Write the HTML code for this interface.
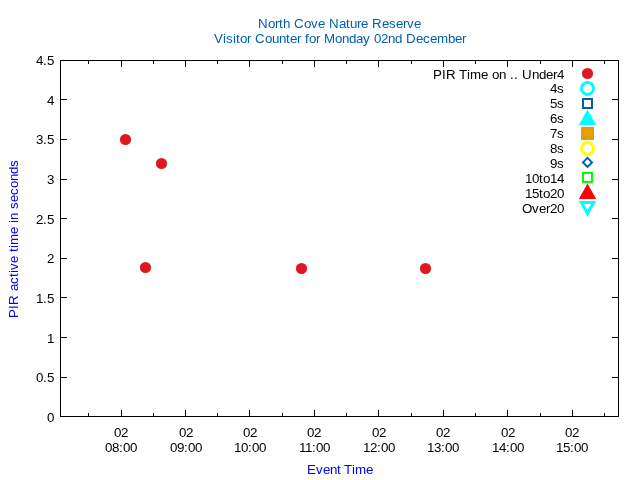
<!DOCTYPE html>
<html><head><meta charset="utf-8"><style>
html,body{margin:0;padding:0;background:#fff;overflow:hidden}
svg{display:block;will-change:transform}
text{font-family:"Liberation Sans",sans-serif;font-size:13.333px}
</style></head><body>
<svg width="640" height="480" viewBox="0 0 640 480">
<rect width="640" height="480" fill="#fff"/>
<g shape-rendering="crispEdges">
<rect x="60" y="60" width="559" height="1" fill="#000"/>
<rect x="60" y="416" width="559" height="1" fill="#000"/>
<rect x="60" y="60" width="1" height="357" fill="#000"/>
<rect x="618" y="60" width="1" height="357" fill="#000"/>
<rect x="121" y="410" width="1" height="6" fill="#000"/>
<rect x="121" y="61" width="1" height="6" fill="#000"/>
<rect x="185" y="410" width="1" height="6" fill="#000"/>
<rect x="185" y="61" width="1" height="6" fill="#000"/>
<rect x="249" y="410" width="1" height="6" fill="#000"/>
<rect x="249" y="61" width="1" height="6" fill="#000"/>
<rect x="314" y="410" width="1" height="6" fill="#000"/>
<rect x="314" y="61" width="1" height="6" fill="#000"/>
<rect x="378" y="410" width="1" height="6" fill="#000"/>
<rect x="378" y="61" width="1" height="6" fill="#000"/>
<rect x="443" y="410" width="1" height="6" fill="#000"/>
<rect x="443" y="61" width="1" height="6" fill="#000"/>
<rect x="507" y="410" width="1" height="6" fill="#000"/>
<rect x="507" y="61" width="1" height="6" fill="#000"/>
<rect x="572" y="410" width="1" height="6" fill="#000"/>
<rect x="572" y="61" width="1" height="6" fill="#000"/>
<rect x="88" y="413" width="1" height="3" fill="#000"/>
<rect x="88" y="61" width="1" height="3" fill="#000"/>
<rect x="153" y="413" width="1" height="3" fill="#000"/>
<rect x="153" y="61" width="1" height="3" fill="#000"/>
<rect x="217" y="413" width="1" height="3" fill="#000"/>
<rect x="217" y="61" width="1" height="3" fill="#000"/>
<rect x="282" y="413" width="1" height="3" fill="#000"/>
<rect x="282" y="61" width="1" height="3" fill="#000"/>
<rect x="346" y="413" width="1" height="3" fill="#000"/>
<rect x="346" y="61" width="1" height="3" fill="#000"/>
<rect x="411" y="413" width="1" height="3" fill="#000"/>
<rect x="411" y="61" width="1" height="3" fill="#000"/>
<rect x="475" y="413" width="1" height="3" fill="#000"/>
<rect x="475" y="61" width="1" height="3" fill="#000"/>
<rect x="540" y="413" width="1" height="3" fill="#000"/>
<rect x="540" y="61" width="1" height="3" fill="#000"/>
<rect x="604" y="413" width="1" height="3" fill="#000"/>
<rect x="604" y="61" width="1" height="3" fill="#000"/>
<rect x="61" y="377" width="6" height="1" fill="#000"/>
<rect x="612" y="377" width="6" height="1" fill="#000"/>
<rect x="61" y="337" width="6" height="1" fill="#000"/>
<rect x="612" y="337" width="6" height="1" fill="#000"/>
<rect x="61" y="297" width="6" height="1" fill="#000"/>
<rect x="612" y="297" width="6" height="1" fill="#000"/>
<rect x="61" y="258" width="6" height="1" fill="#000"/>
<rect x="612" y="258" width="6" height="1" fill="#000"/>
<rect x="61" y="218" width="6" height="1" fill="#000"/>
<rect x="612" y="218" width="6" height="1" fill="#000"/>
<rect x="61" y="179" width="6" height="1" fill="#000"/>
<rect x="612" y="179" width="6" height="1" fill="#000"/>
<rect x="61" y="139" width="6" height="1" fill="#000"/>
<rect x="612" y="139" width="6" height="1" fill="#000"/>
<rect x="61" y="99" width="6" height="1" fill="#000"/>
<rect x="612" y="99" width="6" height="1" fill="#000"/>
</g>
<circle cx="125.5" cy="139.5" r="5.6" fill="#dd181f"/>
<circle cx="161.5" cy="163.5" r="5.6" fill="#dd181f"/>
<circle cx="145.5" cy="267.5" r="5.6" fill="#dd181f"/>
<circle cx="301.5" cy="268.5" r="5.6" fill="#dd181f"/>
<circle cx="425.5" cy="268.5" r="5.6" fill="#dd181f"/>
<circle cx="587.5" cy="73.5" r="5.6" fill="#dd181f"/>
<circle cx="587.5" cy="88.4" r="6" fill="none" stroke="#00ffff" stroke-width="3"/>
<rect x="583" y="99" width="9" height="9" fill="none" stroke="#0060ad" stroke-width="2"/>
<polygon points="587.5,109.5 596.2,125 578.8,125" fill="#00ffff"/>
<rect x="581" y="127" width="13" height="13" fill="#e69f00"/>
<circle cx="587.5" cy="148.4" r="6" fill="none" stroke="#ffff00" stroke-width="3"/>
<polygon points="587.5,157.9 592,162.4 587.5,166.9 583,162.4" fill="none" stroke="#0060ad" stroke-width="2"/>
<rect x="583" y="173" width="9" height="9" fill="none" stroke="#00ff00" stroke-width="2"/>
<polygon points="587.5,183.5 596.2,199 578.8,199" fill="#ff0000"/>
<path d="M578.8,201 L596.2,201 L587.5,216.6 Z M584,204 L587.5,210 L591,204 Z" fill="#00ffff" fill-rule="evenodd"/>
<text x="47" y="422" fill="#000">0</text>
<text x="36 43 47" y="382" fill="#000">0.5</text>
<text x="47" y="343" fill="#000">1</text>
<text x="36 43 47" y="303" fill="#000">1.5</text>
<text x="47" y="263" fill="#000">2</text>
<text x="36 43 47" y="224" fill="#000">2.5</text>
<text x="47" y="184" fill="#000">3</text>
<text x="36 43 47" y="144" fill="#000">3.5</text>
<text x="47" y="105" fill="#000">4</text>
<text x="36 43 47" y="65" fill="#000">4.5</text>
<text x="114 121" y="437" fill="#000">02</text>
<text x="105 112 119 123 130" y="452" fill="#000">08:00</text>
<text x="179 186" y="437" fill="#000">02</text>
<text x="170 177 184 188 195" y="452" fill="#000">09:00</text>
<text x="243 250" y="437" fill="#000">02</text>
<text x="234 241 248 252 259" y="452" fill="#000">10:00</text>
<text x="307 314" y="437" fill="#000">02</text>
<text x="299 305 312 316 323" y="452" fill="#000">11:00</text>
<text x="372 379" y="437" fill="#000">02</text>
<text x="363 370 377 381 388" y="452" fill="#000">12:00</text>
<text x="436 443" y="437" fill="#000">02</text>
<text x="427 434 441 445 452" y="452" fill="#000">13:00</text>
<text x="501 508" y="437" fill="#000">02</text>
<text x="492 499 506 510 517" y="452" fill="#000">14:00</text>
<text x="565 572" y="437" fill="#000">02</text>
<text x="556 563 570 574 581" y="452" fill="#000">15:00</text>
<text x="258 268 275 279 283 290 294 304 311 318 325 329 339 346 350 357 361 368 372 382 389 396 403 407 414" y="28" fill="#0060ad">North Cove Nature Reserve</text>
<text x="214 223 226 233 236 240 247 251 255 265 272 279 286 290 297 301 305 309 316 320 324 335 342 349 356 363 370 374 381 388 395 402 406 416 423 430 437 448 455 462" y="43" fill="#0060ad">Visitor Counter for Monday 02nd December</text>
<text x="307 316 323 330 337 341 344 352 355 366" y="474" fill="#0000ff">Event Time</text>
<text x="-318 -309 -305 -295 -291 -284 -277 -273 -270 -263 -256 -252 -248 -245 -234 -227 -223 -220 -213 -209 -202 -195 -188 -181 -174 -167" y="18" fill="#0000ff" transform="rotate(-90)">PIR active time in seconds</text>
<text x="433 442 446 456 459 467 470 481 488 492 499 506 510 514 518 522 532 539 546 553 557" y="79" fill="#000">PIR Time on .. Under4</text>
<text x="550 557" y="93" fill="#000">4s</text>
<text x="550 557" y="108" fill="#000">5s</text>
<text x="550 557" y="123" fill="#000">6s</text>
<text x="550 557" y="138" fill="#000">7s</text>
<text x="550 557" y="153" fill="#000">8s</text>
<text x="550 557" y="168" fill="#000">9s</text>
<text x="525 532 539 543 550 557" y="183" fill="#000">10to14</text>
<text x="525 532 539 543 550 557" y="198" fill="#000">15to20</text>
<text x="522 532 539 546 550 557" y="213" fill="#000">Over20</text>
</svg>
</body></html>
